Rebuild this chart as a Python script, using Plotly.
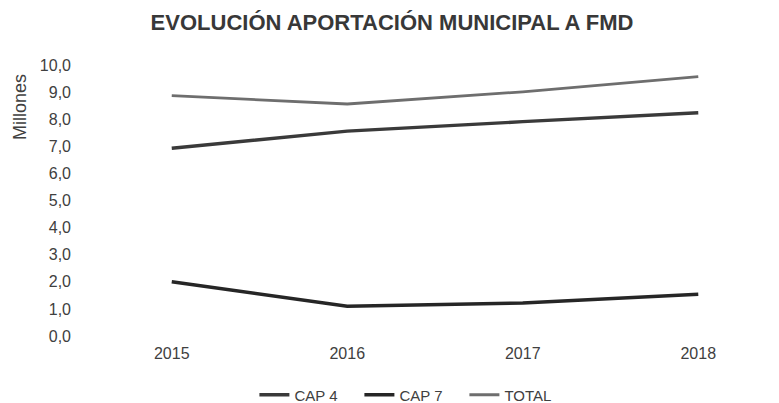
import plotly.graph_objects as go

years = ["2015", "2016", "2017", "2018"]
cap4 = [6.93, 7.56, 7.91, 8.24]
cap7 = [2.0, 1.1, 1.22, 1.54]
total = [8.87, 8.56, 9.01, 9.57]
y_ticks = [0, 1, 2, 3, 4, 5, 6, 7, 8, 9, 10]
y_tick_labels = ["0,0", "1,0", "2,0", "3,0", "4,0", "5,0", "6,0", "7,0", "8,0", "9,0", "10,0"]

W, H = 779, 403
L, R, T, B = 84, 0, 65, 67
FONT = "Liberation Sans, Arial, sans-serif"

fig = go.Figure()
fig.add_trace(go.Scatter(x=years, y=cap4, name="CAP 4", mode="lines",
                         line=dict(color="#3a3a3a", width=3.4)))
fig.add_trace(go.Scatter(x=years, y=cap7, name="CAP 7", mode="lines",
                         line=dict(color="#262626", width=3.6)))
fig.add_trace(go.Scatter(x=years, y=total, name="TOTAL", mode="lines",
                         line=dict(color="#6e6e6e", width=2.8)))

fig.update_layout(
    width=W, height=H,
    margin=dict(l=L, r=R, t=T, b=B),
    paper_bgcolor="white", plot_bgcolor="white",
    font=dict(family=FONT, color="#404040", size=15),
    title=dict(text="<b>EVOLUCIÓN APORTACIÓN MUNICIPAL A FMD</b>",
               x=392 / W, xanchor="center", y=1 - 22 / H, yanchor="middle",
               font=dict(family=FONT, size=22, color="#383838")),
    xaxis=dict(type="category", range=[-0.5, 3.46], showgrid=False, zeroline=False,
               showline=False, ticks="", tickfont=dict(size=16, color="#404040"),
               ticklabelstandoff=6, fixedrange=True),
    yaxis=dict(range=[0, 10], tickvals=y_ticks, ticktext=y_tick_labels,
               showgrid=False, zeroline=False, showline=False, ticks="",
               tickfont=dict(size=16, color="#404040"), ticklabelstandoff=12,
               fixedrange=True),
    showlegend=True,
    legend=dict(orientation="h", x=191 / W, xanchor="left",
                yref="container", y=1 - 395 / H, yanchor="middle",
                entrywidth=60, itemwidth=30,
                font=dict(size=15, color="#404040")),
)
fig.add_annotation(text="Millones", xref="paper", yref="paper",
                   x=(20 - L) / (W - L - R), xanchor="center",
                   y=(336 - 107) / (H - T - B), yanchor="middle", textangle=-90,
                   showarrow=False, font=dict(size=18, color="#404040"))

fig.write_html("out.html", config={"displayModeBar": False},
               post_script="document.body.style.margin='0';document.body.style.overflow='hidden';")
